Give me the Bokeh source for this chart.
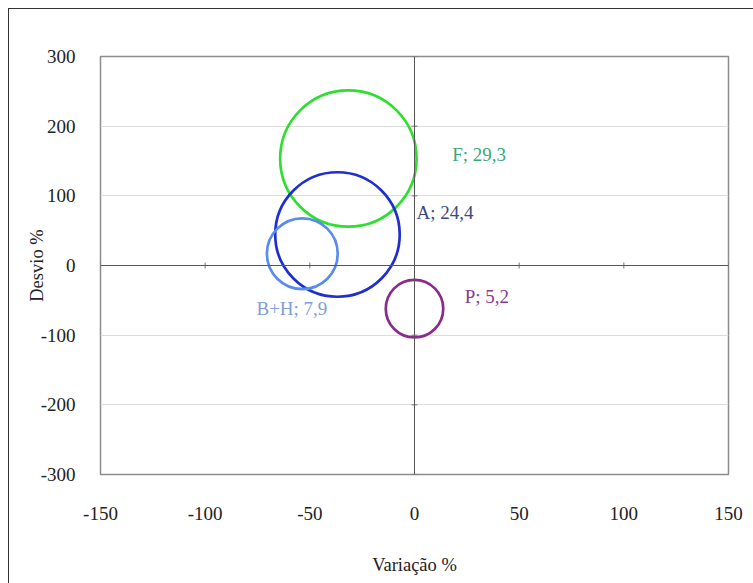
import math
from bokeh.plotting import figure
from bokeh.models import ColumnDataSource, Span, FixedTicker, CustomJSTickFormatter
from bokeh.core.properties import value
from bokeh.embed import file_html
from bokeh.resources import INLINE

# ---- data ----
names = ["F", "A", "B+H", "P"]
size_labels = ["29,3", "24,4", "7,9", "5,2"]
size_values = [29.3, 24.4, 7.9, 5.2]
variacao = [-31.6, -36.8, -53.6, 0.0]
desvio = [153.5, 44.5, 17.0, -62.0]
label_x = [18.0, 1.0, -75.5, 24.0]
label_y = [159.0, 76.0, -61.7, -44.5]
circle_colors = ["#2ee02e", "#1f2fcf", "#5a8bee", "#8a2a8c"]
label_colors = ["#3aa876", "#3a4a7e", "#7f9ed8", "#8a3a98"]
x_ticks = [-150, -100, -50, 0, 50, 100, 150]
y_ticks = [-300, -200, -100, 0, 100, 200, 300]

FONT = "Liberation Serif"
px_per_sqrt = 12.6  # bubble radius in px per sqrt(size)

src = ColumnDataSource(dict(
    x=variacao, y=desvio,
    d=[2 * px_per_sqrt * math.sqrt(v) for v in size_values],
    c=circle_colors,
))
lab = ColumnDataSource(dict(
    x=label_x, y=label_y,
    t=[f"{n}; {s}" for n, s in zip(names, size_labels)],
    c=label_colors,
))

p = figure(
    frame_width=628, frame_height=418,
    x_range=(-150, 150), y_range=(-300, 300),
    output_backend="svg", toolbar_location=None,
    min_border_left=91, min_border_right=26, min_border_top=47, min_border_bottom=110,
    background_fill_color="white", border_fill_color="white",
)
p.styles = {"margin-left": "8px", "margin-top": "8px",
            "border-left": "1px solid #333333", "border-top": "1px solid #333333"}

p.outline_line_color = "#8c8c8c"
p.outline_line_width = 1.5

p.xgrid.visible = False
p.ygrid.grid_line_color = "#dcdcdc"
p.ygrid.grid_line_width = 1
p.ygrid.ticker = FixedTicker(ticks=y_ticks)

fmt = CustomJSTickFormatter(code="return tick.toString();")
for ax in (p.xaxis[0], p.yaxis[0]):
    ax.axis_line_color = None
    ax.major_tick_line_color = None
    ax.minor_tick_line_color = None
    ax.major_tick_out = 0
    ax.major_tick_in = 0
    ax.minor_tick_out = 0
    ax.formatter = fmt
    ax.major_label_text_font = FONT
    ax.major_label_text_font_size = "19px"
    ax.major_label_text_color = "#222222"
    ax.axis_label_text_font = FONT
    ax.axis_label_text_font_size = "18.5px"
    ax.axis_label_text_font_style = "normal"
    ax.axis_label_text_color = "#222222"

p.xaxis.ticker = FixedTicker(ticks=x_ticks)
p.yaxis.ticker = FixedTicker(ticks=y_ticks)
p.xaxis.axis_label = "Variação %"
p.yaxis.axis_label = "Desvio %"
p.xaxis.major_label_standoff = 32
p.xaxis.axis_label_standoff = 32
p.yaxis.major_label_standoff = 25
p.yaxis.axis_label_standoff = -9

# zero axes
p.add_layout(Span(location=0, dimension="width", line_color="#555555", line_width=1))
p.add_layout(Span(location=0, dimension="height", line_color="#555555", line_width=1))
p.scatter(x=x_ticks, y=[0] * len(x_ticks), marker="dash", angle=math.pi / 2,
          size=6, line_color="#777777", line_width=1)
p.scatter(x=[0] * len(y_ticks), y=y_ticks, marker="dash",
          size=6, line_color="#777777", line_width=1)

# bubbles
p.scatter(x="x", y="y", size="d", source=src, fill_color=None,
          line_color="c", line_width=2.7)

# labels
p.text(x="x", y="y", text="t", source=lab, text_color="c",
       text_font=value(FONT), text_font_size="19px",
       text_align="left", text_baseline="middle")

open("out.html", "w").write(file_html(p, INLINE))
